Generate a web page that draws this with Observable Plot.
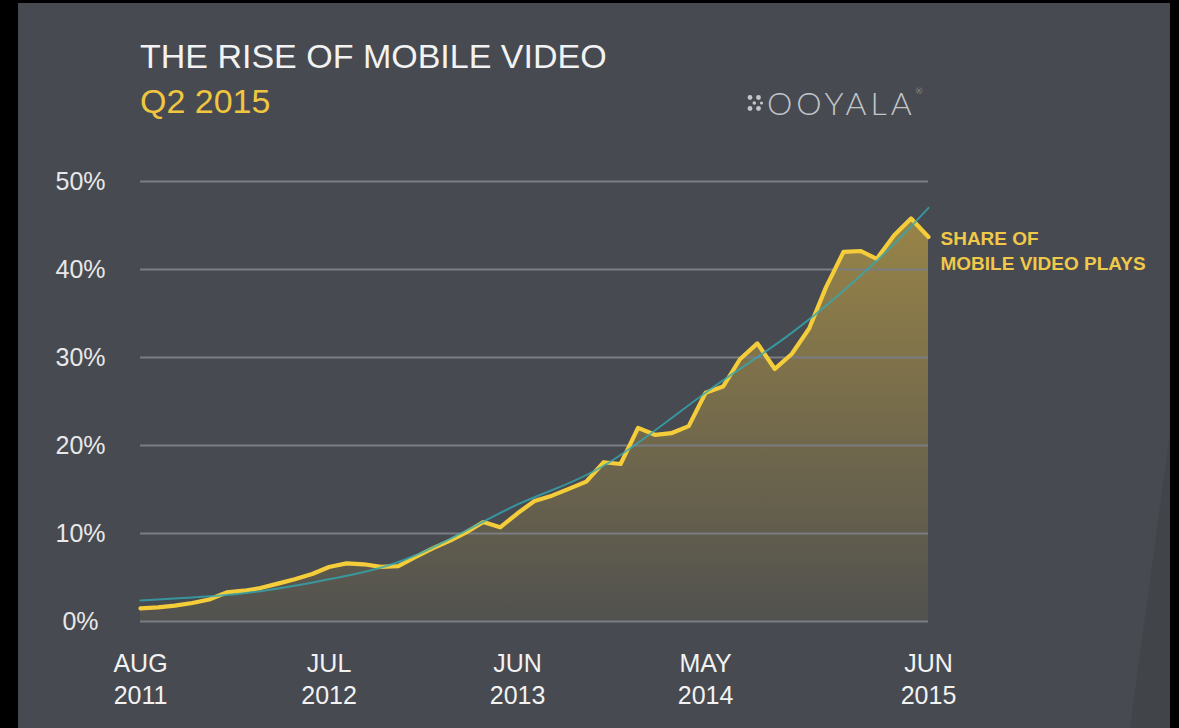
<!DOCTYPE html>
<html>
<head>
<meta charset="utf-8">
<script src="https://cdn.jsdelivr.net/npm/d3@7"></script>
<script src="https://cdn.jsdelivr.net/npm/@observablehq/plot@0.6"></script>
<style>
  html, body { margin: 0; padding: 0; background: #000; width: 1179px; height: 728px; overflow: hidden; }
  #frame { position: absolute; left: 18px; top: 3px; width: 1152px; height: 725px; background: #474a50; overflow: hidden; font-family: "Liberation Sans", Arial, sans-serif; }
  #wedge { position: absolute; left: 0; top: 0; width: 1152px; height: 725px; background: #414449; clip-path: polygon(1152px 430px, 1152px 725px, 1112px 725px); }
  .title { position: absolute; left: 122px; font-size: 34px; line-height: 34px; letter-spacing: 0px; white-space: nowrap; }
  #t1 { top: 36px; color: #f2f2f2; }
  #t2 { top: 81px; color: #f0c640; }
  #logo { position: absolute; left: 728px; top: 80px; display: flex; align-items: center; color: #c3c5c8; font-family: "Lato", "Open Sans", sans-serif; font-weight: 300; font-size: 32px; letter-spacing: 4px; }
  #chart { position: absolute; left: 0; top: 147px; }
</style>
</head>
<body>
<div id="frame">
  <div id="wedge"></div>
  <div class="title" id="t1">THE RISE OF MOBILE VIDEO</div>
  <div class="title" id="t2">Q2 2015</div>
  <div id="logo">
    <svg width="18" height="18" viewBox="0 0 18 18" style="margin-right:3px">
      <circle cx="4" cy="3.5" r="2.4" fill="#c3c5c8"/><circle cx="12.5" cy="3.5" r="2.4" fill="#c3c5c8"/>
      <circle cx="8.3" cy="9" r="1.8" fill="#c3c5c8"/><circle cx="15.5" cy="9" r="1.6" fill="#c3c5c8"/>
      <circle cx="4" cy="14.5" r="2.4" fill="#c3c5c8"/><circle cx="12.5" cy="14.5" r="2.4" fill="#c3c5c8"/>
    </svg>
    <span>OOYALA</span><span style="font-size:8px;align-self:flex-start;margin-top:3px;letter-spacing:0">®</span>
  </div>
  <div id="chart"></div>
</div>
<script>
// ---- data ----
const startMonth = "2011-08-01";
const endMonth = "2015-06-01";
// share of mobile video plays (%), monthly Aug 2011 – Jun 2015
const shareValues = [
  1.5, 1.6, 1.8, 2.1, 2.5, 3.3, 3.5, 3.8, 4.3, 4.8,
  5.4, 6.2, 6.6, 6.5, 6.2, 6.3, 7.3, 8.3, 9.2, 10.1,
  11.3, 10.7, 12.3, 13.7, 14.3, 15.1, 15.9, 18.1, 17.9, 22.0,
  21.2, 21.4, 22.2, 26.0, 26.7, 29.8, 31.6, 28.7, 30.4, 33.3,
  38.0, 42.0, 42.1, 41.2, 43.9, 45.8, 43.7
];
// trend line, read at selected months
const trendMonths = ["2011-08-01", "2012-02-01", "2012-07-01", "2012-12-01", "2013-06-01",
                     "2013-11-01", "2014-05-01", "2014-10-01", "2015-03-01", "2015-06-01"];
const trendValues = [2.4, 3.2, 4.8, 7.5, 13.3, 17.7, 26.0, 32.8, 41.0, 47.0];
const yTicks = [0, 10, 20, 30, 40, 50];
const xTickMonths = ["2011-08-01", "2012-07-01", "2013-06-01", "2014-05-01", "2015-06-01"];
const xTickLabels = ["AUG\n2011", "JUL\n2012", "JUN\n2013", "MAY\n2014", "JUN\n2015"];
const seriesLabel = "SHARE OF\nMOBILE VIDEO PLAYS";

// ---- tables ----
const months = d3.utcMonth.range(new Date(startMonth), d3.utcMonth.offset(new Date(endMonth), 1));
const share = months.map((d, i) => ({date: d, value: shareValues[i]}));
const trend = trendMonths.map((d, i) => ({date: new Date(d), value: trendValues[i]}));
const xTicks = xTickMonths.map((d, i) => ({date: new Date(d), label: xTickLabels[i]}));
const last = share[share.length - 1];

const chart = Plot.plot({
  width: 1152,
  height: 578,
  marginTop: 31,
  marginBottom: 107,
  marginLeft: 122,
  marginRight: 242,
  style: {background: "transparent", fontFamily: "\"Liberation Sans\", Arial, sans-serif", overflow: "visible"},
  x: {type: "utc", domain: [new Date(startMonth), new Date(endMonth)], axis: null},
  y: {domain: [0, 50], axis: null},
  marks: [
    Plot.areaY(share, {x: "date", y: "value", fill: "url(#areaGrad)"}),
    Plot.ruleY(yTicks, {stroke: "#7a7d82", strokeWidth: 2}),
    Plot.lineY(share, {x: "date", y: "value", stroke: "#f5cd3a", strokeWidth: 4.2, strokeLinejoin: "round"}),
    Plot.lineY(trend, {x: "date", y: "value", stroke: "#35a8b0", strokeWidth: 2, strokeOpacity: 0.8, curve: "natural"}),
    Plot.text(yTicks, {y: d => d, text: d => d + "%", frameAnchor: "left", dx: -60, textAnchor: "middle", fill: "#e8e8e8", fontSize: 25}),
    Plot.text(xTicks, {x: "date", text: "label", frameAnchor: "bottom", dy: 56, lineAnchor: "middle", lineHeight: 1.3, fill: "#f2f2f2", fontSize: 25}),
    Plot.text([last], {x: "date", y: "value", text: () => seriesLabel, textAnchor: "start", lineAnchor: "top", dx: 12, dy: -9, lineHeight: 1.3, fill: "#f0c84a", fontSize: 19, fontWeight: "bold", letterSpacing: "-0.6px"})
  ]
});
d3.select(chart).insert("defs", ":first-child").html(
  '<linearGradient id="areaGrad" x1="0" y1="0" x2="0" y2="1">' +
  '<stop offset="0" stop-color="#ad9346" stop-opacity="0.8"/>' +
  '<stop offset="1" stop-color="#ad9346" stop-opacity="0.1"/>' +
  '</linearGradient>');
document.getElementById("chart").appendChild(chart);
</script>
</body>
</html>
